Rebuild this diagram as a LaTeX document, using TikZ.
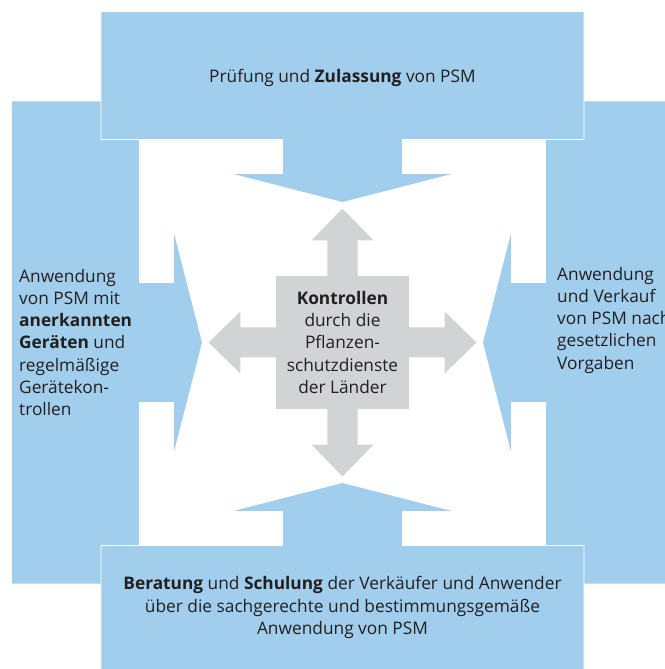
\documentclass[tikz,border=0pt]{standalone}
\usepackage{fontspec}
\setmainfont{Open Sans}
\usetikzlibrary{positioning}
\definecolor{skyblue}{RGB}{161,206,236}
\definecolor{lightgray4}{RGB}{209,211,212}
\definecolor{textgray}{RGB}{35,31,32}

\begin{document}
\begin{tikzpicture}
  [x=1pt,y=1pt,
   every node/.style={font=\fontsize{17.3}{22.2}\selectfont,text=textgray,inner sep=0pt},
   panel/.style={fill=skyblue,draw=white,line width=0.8pt},
   control/.style={fill=lightgray4,draw=none}]
  \useasboundingbox (-342.5,-326.5) rectangle (321.5,342.5);
  % blue panels, the two sides first
  \foreach \ang in {90,270,0,180}
  \draw[panel,rotate=\ang] (-241.5,331) -- (241.5,331) -- (241.5,203) -- (60,203) -- (60,169)
    -- (113,169) -- (0,140) -- (-113,169) -- (-60,169) -- (-60,203) -- (-241.5,203) -- cycle;
  % grey cross
  \foreach \ang in {0,90,180,270}
  \fill[control,rotate=\ang] (-15,60) -- (-15,102) -- (-31,102) -- (0,134) -- (31,102) -- (15,102) -- (15,60) -- cycle;
  \node[control,minimum size=133pt,align=center] (ktr) at (0,0)
    {\textbf{Kontrollen}\\durch die\\Pflanzen-\\schutzdienste\\der Länder};
  \node (zul) at (0,265) {Prüfung und \textbf{Zulassung} von PSM};
  \node[align=center] (ber) at (0,-265)
    {\textbf{Beratung} und \textbf{Schulung} der Verkäufer und Anwender\\über die sachgerechte und bestimmungsgemäße\\Anwendung von PSM};
  \node[align=left,anchor=west] (anw) at (-323.5,0)
    {Anwendung\\von PSM mit\\\textbf{anerkannten}\\\textbf{Geräten} und\\regelmäßige\\Gerätekon-\\trollen};
  \node[align=left,anchor=west] (verk) at (214.5,22.2)
    {Anwendung\\und Verkauf\\von PSM nach\\gesetzlichen\\Vorgaben};
\end{tikzpicture}
\end{document}
